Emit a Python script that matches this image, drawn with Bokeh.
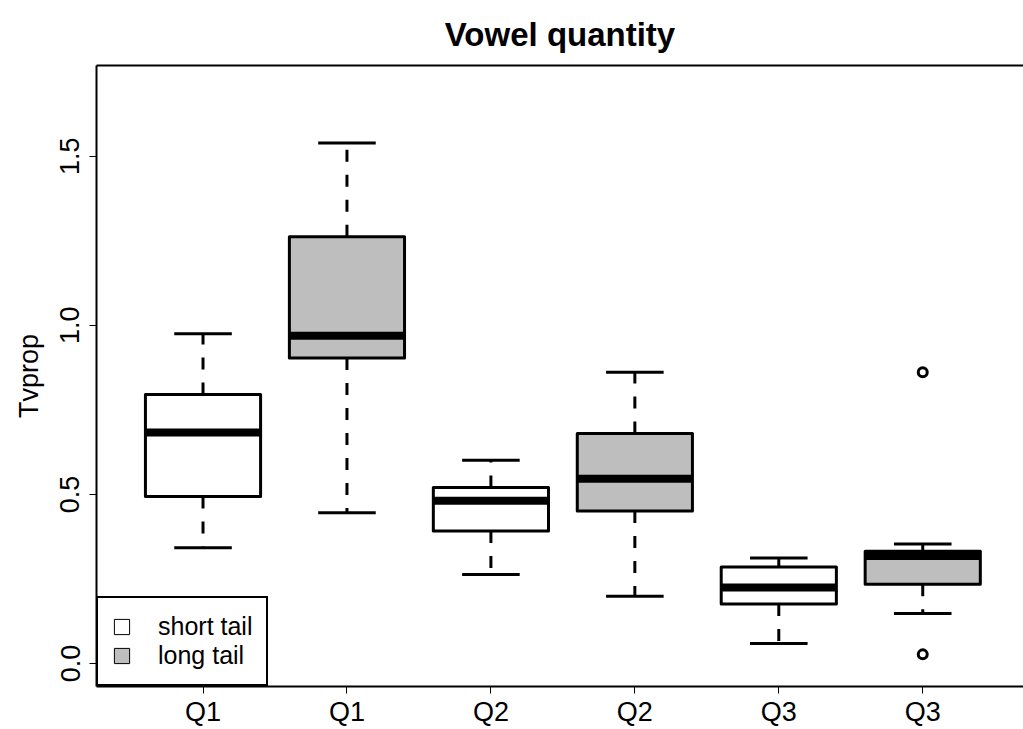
from bokeh.plotting import figure
from bokeh.models import (Range1d, FixedTicker, Legend, LegendItem, ColumnDataSource,
                          LinearAxis)
from bokeh.embed import file_html
from bokeh.resources import INLINE

# ---- data ----
positions = [1, 2, 3, 4, 5, 6]
tick_labels = ["Q1", "Q1", "Q2", "Q2", "Q3", "Q3"]
groups = ["short tail", "long tail", "short tail", "long tail", "short tail", "long tail"]
whisker_low = [0.342, 0.446, 0.263, 0.199, 0.059, 0.148]
q1 = [0.494, 0.903, 0.392, 0.451, 0.176, 0.234]
median = [0.683, 0.969, 0.481, 0.546, 0.225, 0.318]
q3 = [0.795, 1.262, 0.520, 0.680, 0.285, 0.332]
whisker_high = [0.975, 1.539, 0.601, 0.861, 0.312, 0.353]
outlier_pos = [6, 6]
outlier_val = [0.861, 0.027]
y_ticks = [0.0, 0.5, 1.0, 1.5]
y_tick_labels = ["0.0", "0.5", "1.0", "1.5"]
group_order = ["short tail", "long tail"]
group_colors = {"short tail": "#FFFFFF", "long tail": "#BEBEBE"}

FONT = "Liberation Sans"
BOXW = 0.8
CAPW = 0.4

p = figure(width=1023, height=729, output_backend="svg", toolbar_location=None,
           x_range=Range1d(0.26, 6.70), y_range=Range1d(-0.068, 1.768),
           min_border_left=96, min_border_right=0, min_border_top=65, min_border_bottom=42,
           title="Vowel quantity")
p.title.align = "center"
p.title.text_font = FONT
p.title.text_font_size = "33px"
p.title.text_font_style = "bold"
p.title.text_color = "black"
p.title.text_line_height = 0.7
p.title.standoff = 26

p.xgrid.visible = False
p.ygrid.visible = False
p.outline_line_color = None
p.background_fill_color = "white"
p.border_fill_color = "white"

xax = p.below[0]
yax = p.left[0]

# top frame line (no ticks / labels)
top_axis = LinearAxis(ticker=FixedTicker(ticks=[]), axis_line_color="black",
                      axis_line_width=2, major_tick_line_color=None,
                      minor_tick_line_color=None, major_tick_out=0, major_tick_in=0,
                      major_label_text_font_size="0px", major_label_standoff=0)
p.add_layout(top_axis, "above")

# axes
xax.ticker = FixedTicker(ticks=positions)
xax.major_label_overrides = {pos: lab for pos, lab in zip(positions, tick_labels)}
yax.ticker = FixedTicker(ticks=y_ticks)
yax.major_label_overrides = {t: s for t, s in zip(y_ticks, y_tick_labels)}
yax.major_label_orientation = "vertical"
yax.axis_label = "Tvprop"
for ax in (xax, yax):
    ax.axis_line_color = "black"
    ax.axis_line_width = 2
    ax.minor_tick_line_color = None
    ax.major_tick_in = 0
    ax.major_tick_out = 7
    ax.major_tick_line_color = "black"
    ax.major_tick_line_width = 1
    ax.major_label_text_font = FONT
    ax.major_label_text_font_size = "27px"
    ax.major_label_text_color = "black"
xax.major_label_standoff = 3
yax.major_label_standoff = 10
yax.axis_label_text_font = FONT
yax.axis_label_text_font_size = "27px"
yax.axis_label_text_font_style = "normal"
yax.axis_label_text_color = "black"
yax.axis_label_standoff = 14

def cols(idx):
    return dict(
        x=[positions[i] for i in idx],
        left=[positions[i] - BOXW / 2 for i in idx],
        right=[positions[i] + BOXW / 2 for i in idx],
        cl=[positions[i] - CAPW / 2 for i in idx],
        cr=[positions[i] + CAPW / 2 for i in idx],
        lo=[whisker_low[i] for i in idx], q1=[q1[i] for i in idx],
        med=[median[i] for i in idx], q3=[q3[i] for i in idx],
        hi=[whisker_high[i] for i in idx],
        color=[group_colors[groups[i]] for i in idx],
    )

src = ColumnDataSource(cols(range(len(positions))))

# legend proxy renderers (thin-lined boxes, hidden beneath the real boxes)
leg_items = []
for g in group_order:
    gsrc = ColumnDataSource(cols([i for i, gg in enumerate(groups) if gg == g]))
    r = p.quad(left="left", right="right", bottom="q1", top="q3", source=gsrc,
               fill_color=group_colors[g], line_color="black", line_width=1)
    leg_items.append(LegendItem(label=g, renderers=[r]))

dash = "12 13"
p.segment(x0="x", y0="q3", x1="x", y1="hi", source=src, line_color="black",
          line_width=3, line_dash=dash)
p.segment(x0="x", y0="q1", x1="x", y1="lo", source=src, line_color="black",
          line_width=3, line_dash=dash)
p.segment(x0="cl", y0="hi", x1="cr", y1="hi", source=src, line_color="black", line_width=3)
p.segment(x0="cl", y0="lo", x1="cr", y1="lo", source=src, line_color="black", line_width=3)
p.quad(left="left", right="right", bottom="q1", top="q3", source=src,
       fill_color="color", line_color="black", line_width=3, line_join="round")
p.segment(x0="left", y0="med", x1="right", y1="med", source=src, line_color="black",
          line_width=8, line_cap="butt")
p.scatter(x=outlier_pos, y=outlier_val, marker="circle", size=9, fill_color=None,
          line_color="black", line_width=3)

legend = Legend(items=leg_items, location=(0, 0), margin=0, padding=14,
                glyph_width=19, glyph_height=19, label_standoff=27, spacing=0,
                label_height=20,
                label_text_font=FONT, label_text_font_size="25px",
                label_text_color="black", border_line_color="black",
                border_line_width=2, border_line_alpha=1.0,
                background_fill_color="white", background_fill_alpha=1.0)
p.add_layout(legend)

open("out.html", "w").write(file_html(p, INLINE))
